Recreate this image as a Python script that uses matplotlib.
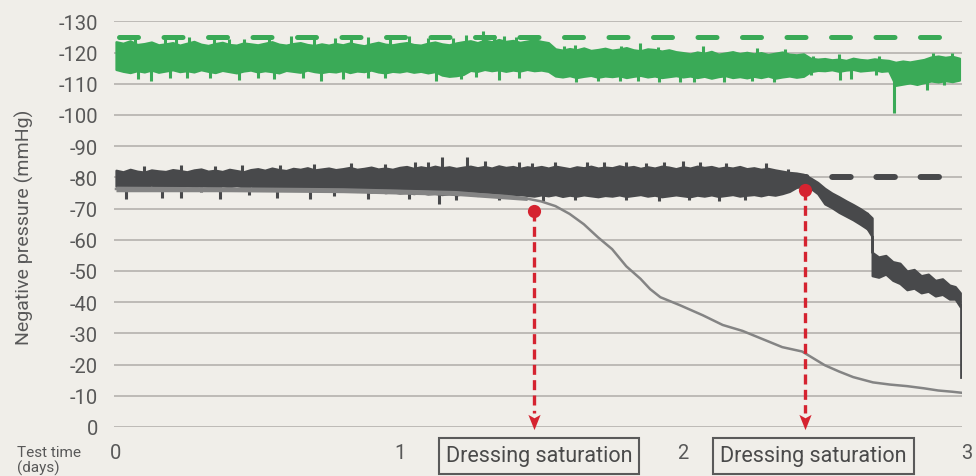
import numpy as np
import matplotlib
matplotlib.use("Agg")
import matplotlib.pyplot as plt
from matplotlib.transforms import blended_transform_factory

plt.rcParams['font.family'] = ['Roboto', 'DejaVu Sans']
plt.rcParams['axes.unicode_minus'] = False

# ---------------- data (negative pressure magnitude, mmHg; time in days) ----------
# green trace: band read every 0.025 day
green_step = 0.025
green_hi = [123.5, 123.0, 123.8, 122.6, 122.9, 123.4, 122.5, 122.8, 123.2, 122.4,
            123.0, 123.6, 122.7, 122.3, 122.9, 123.3, 122.6, 122.4, 123.1, 122.8,
            122.5, 123.0, 123.5, 122.7, 122.4, 122.9, 123.2, 122.6, 122.3, 122.8,
            122.4, 122.9, 122.5, 123.1, 122.6, 122.2, 122.8, 123.3, 122.7, 122.5,
            122.9, 123.2, 122.6, 122.4, 123.0, 123.4, 122.8, 122.5, 123.1, 123.5,
            123.8, 123.2, 124.0, 123.5, 124.2, 123.6, 123.9, 123.3, 123.7, 124.1,
            123.6, 123.2, 121.2, 120.8, 121.3, 120.9, 121.5, 120.7, 121.0, 121.4,
            120.8, 121.1, 121.6, 120.9, 120.6, 121.2, 121.0, 120.5, 120.9, 120.3,
            120.0, 119.6, 120.2, 119.8, 120.4, 119.5, 119.9, 120.3, 119.7, 120.1,
            119.6, 120.0, 119.4, 119.8, 120.2, 119.5, 119.3, 119.6, 118.2, 117.9,
            118.1, 117.7, 117.9, 117.5, 118.2, 117.8, 117.6, 118.0, 117.7, 117.5,
            116.9, 117.3, 117.0, 117.4, 117.8, 118.6, 118.9, 118.5, 118.8, 118.2]
green_lo = [114.6, 114.0, 113.6, 114.2, 113.8, 114.4, 113.7, 114.1, 114.5, 113.9,
            114.2, 113.8, 114.5, 114.0, 113.6, 114.3, 113.9, 113.5, 114.1, 114.4,
            113.8, 114.2, 113.9, 113.5, 114.3, 114.0, 113.7, 114.4, 113.9, 113.6,
            114.0, 113.8, 114.3, 113.6, 114.1, 113.9, 114.4, 113.8, 113.5, 114.0,
            113.8, 114.2, 113.7, 114.0, 113.5, 113.9, 112.8, 112.4, 112.6, 113.0,
            114.3, 114.0, 114.6, 114.2, 114.5, 114.0, 114.4, 114.1, 114.6, 114.2,
            114.4, 114.0, 112.5, 112.2, 112.6, 112.0, 112.4, 112.7, 112.1, 112.5,
            112.3, 112.6, 112.0, 112.4, 112.7, 112.2, 112.5, 112.0, 112.3, 112.6,
            112.2, 112.5, 112.0, 112.4, 111.8, 112.3, 112.6, 112.0, 112.3, 111.9,
            112.4, 112.0, 112.5, 111.8, 112.2, 112.5, 112.1, 112.4, 113.9, 114.3,
            114.2, 114.5, 114.0, 114.4, 114.6, 114.1, 114.3, 114.5, 114.0, 114.2,
            109.5, 109.9, 110.3, 109.8, 110.4, 110.9, 110.6, 111.0, 110.7, 111.2]
green_up_x = [0.066, 0.172, 0.21, 0.259, 0.346, 0.40, 0.453, 0.54, 0.617, 0.70, 0.772,
              0.83, 0.888, 0.966, 1.033, 1.101, 1.19, 1.236, 1.294, 1.333, 1.37, 1.41,
              1.468, 1.58, 1.62, 1.78, 1.85, 1.91, 2.07, 2.26, 2.36, 2.46, 2.55, 2.69,
              2.88, 2.95]
green_up_v = [125.5, 124.8, 124.5, 125.0, 125.8, 124.2, 124.5, 124.8, 125.2, 124.5,
              124.6, 124.3, 125.0, 124.5, 125.2, 124.8, 124.8, 125.5, 127.0, 125.6,
              125.2, 125.0, 125.3, 122.0, 122.5, 122.2, 123.0, 121.8, 122.0, 121.5,
              121.0, 119.0, 119.5, 119.0, 119.8, 120.0]
green_dn_x = [0.076, 0.124, 0.19, 0.25, 0.33, 0.434, 0.50, 0.559, 0.66, 0.724, 0.80,
              0.888, 0.95, 1.13, 1.217, 1.27, 1.352, 1.42, 1.623, 1.70, 1.778, 1.84,
              1.914, 1.991, 2.04, 2.146, 2.243, 2.32, 2.45, 2.553, 2.591, 2.68, 2.743,
              2.86, 2.92]
green_dn_v = [111.5, 111.0, 112.0, 112.0, 111.8, 111.2, 112.0, 111.6, 111.9, 111.0,
              111.5, 111.8, 112.0, 110.8, 111.5, 112.2, 111.2, 112.0, 110.5, 110.9,
              110.8, 110.8, 110.5, 110.6, 110.7, 110.5, 110.8, 110.5, 112.8, 111.3,
              111.5, 112.8, 100.5, 108.0, 109.5]

# dark trace: band read every 0.025 day up to 2.65, then after the step at 2.667
dark_step = 0.025
dark_hi = [82.3, 81.8, 82.6, 82.0, 81.7, 82.4, 82.1, 81.9, 82.5, 82.2,
           81.8, 82.4, 82.7, 82.0, 82.3, 81.9, 82.6, 82.2, 81.8, 82.5,
           82.8, 82.3, 83.0, 82.5, 82.2, 82.9, 82.6, 83.1, 82.4, 82.7,
           83.0, 82.5, 82.8, 83.2, 82.6, 82.9, 83.3, 82.7, 83.0, 82.6,
           83.2, 83.5, 82.9, 83.4, 83.0, 83.6, 83.1, 83.4, 82.9, 83.3,
           83.6, 83.1, 83.5, 83.0, 83.7, 83.2, 83.5, 82.9, 83.4, 83.1,
           83.5, 83.0, 83.6, 83.2, 82.8, 83.4, 83.1, 83.6, 83.0, 83.3,
           83.1, 83.7, 83.2, 83.5, 82.9, 83.4, 83.0, 83.6, 83.3, 82.8,
           83.4, 83.0, 83.6, 83.2, 83.5, 82.9, 83.3, 83.0, 83.5, 82.8,
           83.1, 82.6, 82.9, 82.4, 82.0, 81.6, 81.4, 81.0, 79.8, 78.4,
           76.5, 75.0, 73.8, 72.5, 71.3, 70.0, 68.5]
dark_lo = [77.2, 77.0, 77.4, 76.9, 77.2, 77.5, 77.0, 77.3, 76.8, 77.2,
           77.4, 77.0, 77.3, 77.1, 76.8, 77.3, 77.0, 77.4, 76.9, 77.2,
           76.8, 77.0, 76.6, 76.9, 76.4, 76.7, 76.2, 76.5, 76.0, 76.3,
           75.9, 76.2, 75.7, 76.0, 75.5, 75.8, 75.3, 75.6, 75.1, 75.4,
           75.0, 75.2, 74.8, 75.1, 74.7, 74.9, 74.5, 74.8, 74.4, 74.7,
           74.5, 74.2, 74.6, 74.3, 74.0, 74.4, 74.1, 74.5, 74.2, 74.0,
           74.4, 74.1, 74.5, 73.9, 74.3, 74.0, 74.4, 74.1, 73.8, 74.2,
           74.0, 74.4, 73.9, 74.2, 74.5, 74.0, 74.3, 73.8, 74.1, 74.4,
           74.1, 73.8, 74.3, 74.0, 74.4, 73.9, 74.2, 74.5, 74.0, 74.3,
           74.5, 74.1, 74.6, 74.3, 74.8, 75.5, 76.8, 77.2, 76.5, 74.8,
           71.5, 70.3, 68.8, 67.6, 66.4, 65.0, 63.5]
dark2_x = [2.65, 2.667, 2.667, 2.69, 2.715, 2.74, 2.765, 2.79, 2.815, 2.84, 2.865,
           2.89, 2.915, 2.94, 2.96, 2.978]
dark2_hi = [68.5, 67.0, 56.0, 54.5, 55.0, 53.0, 52.5, 50.0, 50.5, 48.5, 49.0, 47.0,
            47.5, 45.5, 45.0, 43.0]
dark2_lo = [63.5, 61.0, 48.5, 48.0, 49.0, 47.0, 46.0, 44.0, 44.5, 43.0, 43.5, 42.0,
            42.5, 41.0, 41.0, 38.5]
dark_up_x = [0.10, 0.23, 0.35, 0.443, 0.579, 0.70, 0.83, 0.95, 1.053, 1.10, 1.149,
             1.237, 1.30, 1.42, 1.468, 1.55, 1.662, 1.72, 1.798, 1.87, 1.933, 2.00,
             2.059, 2.15, 2.291, 2.37]
dark_up_v = [83.6, 84.0, 83.5, 84.0, 84.0, 84.2, 84.5, 84.3, 85.0, 85.0, 86.5, 86.5,
             85.2, 85.0, 84.5, 84.8, 85.0, 84.8, 85.0, 84.6, 85.0, 85.2, 85.0, 84.6,
             84.5, 82.8]
dark_dn_x = [0.037, 0.163, 0.23, 0.30, 0.366, 0.47, 0.569, 0.685, 0.77, 0.888, 1.033,
             1.14, 1.20, 1.35, 1.507, 1.62, 1.80, 1.914, 2.02, 2.127, 2.22]
dark_dn_v = [73.0, 73.5, 73.5, 75.2, 73.0, 74.5, 73.5, 73.0, 74.0, 73.0, 73.0, 71.5,
             72.8, 72.8, 72.5, 72.6, 72.8, 72.5, 72.6, 72.5, 72.8]
dark_end_x = 2.982
dark_end_v = [39.0, 16.0]

gray_x = [0.00, 0.20, 0.40, 0.60, 0.80, 1.00, 1.10, 1.20, 1.30, 1.38, 1.45, 1.50, 1.55,
          1.60, 1.65, 1.70, 1.75, 1.80, 1.85, 1.884, 1.92, 1.99, 2.07, 2.14, 2.21, 2.28,
          2.35, 2.42, 2.50, 2.55, 2.60, 2.67, 2.73, 2.79, 2.85, 2.90, 2.95, 2.98]
gray_v = [76.3, 76.2, 76.2, 76.0, 75.9, 75.6, 75.3, 75.0, 74.5, 74.0, 73.2, 72.3, 70.8,
          68.3, 65.0, 60.8, 57.0, 51.5, 47.5, 44.2, 41.6, 39.0, 35.8, 32.7, 30.8, 28.2,
          25.6, 24.2, 19.8, 17.8, 16.0, 14.3, 13.6, 13.1, 12.4, 11.7, 11.3, 11.0]
gray_band_x = [0.00, 0.40, 0.80, 1.20, 1.45]
gray_band_hi = [77.2, 77.0, 76.7, 75.8, 73.9]
gray_band_lo = [75.4, 75.4, 75.1, 74.2, 72.6]

green_target = 125
green_target_x = [0.009, 2.905]
dark_target = 80
dark_target_x = [2.372, 2.903]

sat_x = [1.475, 2.430]
sat_v = [69.3, 76.0]
sat_label = "Dressing saturation"
box_x = [1.492, 2.459]

y_ticks = list(range(0, 131, 10))
x_ticks = [0, 1, 2, 3]

# ---------------- style ----------------
BG = '#f0eee9'
GREEN = '#3aaa57'
DARK = '#48494b'
GRAY = '#848484'
RED = '#d52330'
GRID = '#b4b1ad'
TXT = '#585858'

fig = plt.figure(figsize=(9.76, 4.77), dpi=100, facecolor=BG)
ax = fig.add_axes([114 / 976, 49 / 477, 848 / 976, 405.6 / 477])
ax.set_facecolor(BG)
ax.set_xlim(-0.007, 2.984)
ax.set_ylim(0, 130)
for s in ax.spines.values():
    s.set_visible(False)
ax.set_yticks(y_ticks)
ax.set_yticklabels([f"-{v}" if v else "0" for v in y_ticks])
ax.tick_params(axis='y', length=0, pad=11.5, labelsize=14.5, labelcolor=TXT)
ax.set_xticks([])
ax.grid(axis='y', color=GRID, lw=1.2, zorder=0)
ax.set_axisbelow(True)


def spikes(xs, vs, bx, blo, bhi, color):
    mid = np.interp(xs, bx, (np.asarray(blo) + np.asarray(bhi)) / 2)
    ax.vlines(xs, mid, vs, color=color, lw=2.2, zorder=2)


# green series
gx = np.arange(len(green_hi)) * green_step
ax.fill_between(gx, green_lo, green_hi, color=GREEN, lw=1.6, edgecolor=GREEN, zorder=2)
spikes(green_up_x, green_up_v, gx, green_lo, green_hi, GREEN)
spikes(green_dn_x, green_dn_v, gx, green_lo, green_hi, GREEN)
ax.plot(green_target_x, [green_target] * 2, color=GREEN, lw=3.6,
        dashes=(3.8, 5.1), dash_capstyle='round', zorder=3)

# dark series
dx = np.arange(len(dark_hi)) * dark_step
ax.fill_between(dx, dark_lo, dark_hi, color=DARK, lw=1.6, edgecolor=DARK, zorder=2)
ax.fill_between(dark2_x, dark2_lo, dark2_hi, color=DARK, lw=1.6, edgecolor=DARK, zorder=2)
spikes(dark_up_x, dark_up_v, dx, dark_lo, dark_hi, DARK)
spikes(dark_dn_x, dark_dn_v, dx, dark_lo, dark_hi, DARK)
ax.plot([dark_end_x] * 2, dark_end_v, color=DARK, lw=2.0, zorder=2)
ax.plot(dark_target_x, [dark_target] * 2, color=DARK, lw=4.3,
        dashes=(3.1, 4.3), dash_capstyle='round', zorder=3)

# gray series
ax.fill_between(gray_band_x, gray_band_lo, gray_band_hi, color=GRAY, lw=0, zorder=3)
ax.plot(gray_x, gray_v, color=GRAY, lw=1.8, zorder=3)

# saturation markers & arrows
arrow_v = 1.5
head_top = 4.6
for x, v in zip(sat_x, sat_v):
    ax.plot([x, x], [v, head_top], color=RED, lw=2.4, dashes=(3.0, 1.6), zorder=4)
    ax.plot([x], [v], 'o', ms=9.5, color=RED, mec='none', zorder=5)
    ax.plot([x], [arrow_v], marker=[(0, -1), (-0.8, 1), (0, 0.55), (0.8, 1), (0, -1)],
            ms=11, color=RED, mec='none', zorder=5, clip_on=False)

# x tick labels
tr = blended_transform_factory(ax.transData, fig.transFigure)
for t in x_ticks:
    ax.text(t, 1 - 454 / 477, str(t), transform=tr, ha='center', va='center',
            fontsize=14.5, color=TXT, clip_on=False)

for bx in box_x:
    ax.text(bx, 1 - 457 / 477, sat_label, transform=tr, ha='center', va='center',
            fontsize=15.5, color='#4a4a4a', clip_on=False,
            bbox=dict(boxstyle='square,pad=0.33', fc='none', ec='#5a5a5a', lw=1.5))

fig.text(17 / 976, 1 - 446 / 477, "Test time\n(days)", ha='left', va='top',
         fontsize=11, color=TXT, linespacing=1.05)
fig.text(24 / 976, 1 - 227 / 477, "Negative pressure (mmHg)", rotation=90,
         ha='center', va='center', fontsize=14, color=TXT)

fig.savefig("out.png", dpi=100, facecolor=BG)
